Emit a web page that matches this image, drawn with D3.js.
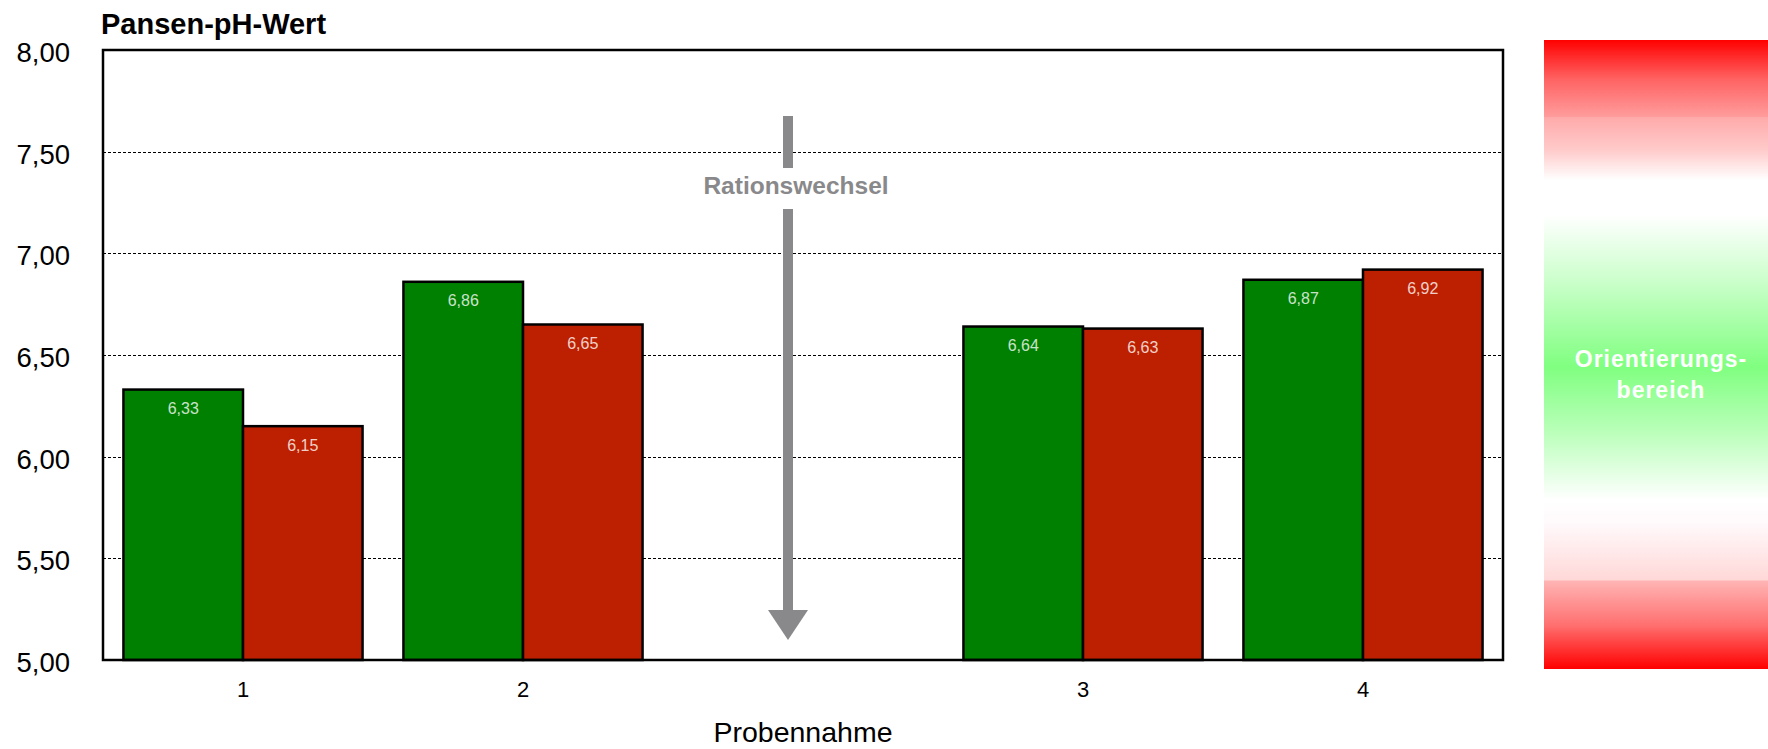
<!DOCTYPE html>
<html>
<head>
<meta charset="utf-8">
<script src="https://cdn.jsdelivr.net/npm/d3@7"></script>
<style>
  html, body { margin: 0; padding: 0; background: #fff; }
  svg { display: block; }
  text { font-family: "Liberation Sans", Arial, Helvetica, sans-serif; }
</style>
</head>
<body>
<script>
// Pansen-pH-Werte je Probennahme, zwei Gruppen, Rationswechsel zwischen 2 und 3
const probennahme = ["1", "2", "3", "4"];
const gruppeGruen = [6.33, 6.86, 6.64, 6.87];
const gruppeRot   = [6.15, 6.65, 6.63, 6.92];
const slots = ["1", "2", "wechsel", "3", "4"];   // freie Position für den Rationswechsel
const yTicks = [5.0, 5.5, 6.0, 6.5, 7.0, 7.5, 8.0];
const yDomain = [5, 8];

const W = 1768, H = 749;
const plot = { left: 103, right: 1503, top: 50, bottom: 660 };

const fmt = d3.formatLocale({ decimal: ",", thousands: ".", grouping: [3], currency: ["", " €"] }).format(".2f");

const svg = d3.select("body").append("svg").attr("width", W).attr("height", H);

const x = d3.scaleBand().domain(slots).range([plot.left, plot.right])
  .paddingInner(0.146).paddingOuter(0.073);
const sub = d3.scaleBand().domain(["gruen", "rot"]).range([0, x.bandwidth()]);
const y = d3.scaleLinear().domain(yDomain).range([plot.bottom, plot.top]);

// Orientierungsbereich (Farbverlauf rechts)
const defs = svg.append("defs");
const band = { x: 1544, y0: 40, y1: 669 };
const grad = defs.append("linearGradient").attr("id", "orient")
  .attr("gradientUnits", "userSpaceOnUse")
  .attr("x1", 0).attr("x2", 0).attr("y1", band.y0).attr("y2", band.y1);
const stops = [
  [40, "#ff0000"], [80, "#ff6464"], [117, "#ff9c9c"], [117.5, "#ffaaaa"],
  [150, "#ffcaca"], [180, "#ffffff"], [215, "#ffffff"], [280, "#ccffcc"],
  [367, "#80ff80"], [430, "#b8ffb8"], [500, "#ffffff"], [522, "#fffafc"],
  [580, "#ffd8d8"], [581, "#ffb4b4"], [625, "#ff7070"], [669, "#ff0000"]
];
grad.selectAll("stop").data(stops).join("stop")
  .attr("offset", d => (d[0] - band.y0) / (band.y1 - band.y0))
  .attr("stop-color", d => d[1]);
svg.append("rect").attr("x", band.x).attr("y", band.y0)
  .attr("width", W - band.x).attr("height", band.y1 - band.y0)
  .attr("fill", "url(#orient)");
svg.append("text").attr("x", 1661).attr("text-anchor", "middle")
  .attr("font-weight", "bold").attr("font-size", 23).attr("letter-spacing", 1)
  .attr("fill", "#fff")
  .selectAll("tspan").data(["Orientierungs-", "bereich"]).join("tspan")
  .attr("x", 1661).attr("y", (d, i) => 367 + i * 31).text(d => d);

// Gitterlinien
svg.append("g").selectAll("line").data(yTicks.filter(t => t > yDomain[0] && t < yDomain[1]))
  .join("line")
  .attr("x1", plot.left).attr("x2", plot.right)
  .attr("y1", d => Math.round(y(d)) + 0.5).attr("y2", d => Math.round(y(d)) + 0.5)
  .attr("stroke", "#000").attr("stroke-width", 1).attr("stroke-dasharray", "3,2");

// Y-Achse (nur Beschriftung)
const yAxis = d3.axisLeft(y).tickValues(yTicks).tickFormat(fmt).tickSize(0).tickPadding(33);
const gy = svg.append("g").attr("transform", `translate(${plot.left},0)`).call(yAxis);
gy.select(".domain").remove();
gy.selectAll("text").attr("font-size", 27.5).attr("fill", "#000")
  .attr("font-family", "'Liberation Sans', Arial, sans-serif")
  .attr("dy", "0.45em").attr("y", -1);

// X-Achse (nur Beschriftung)
const xAxis = d3.axisBottom(x).tickValues(slots.filter(s => probennahme.includes(s)))
  .tickSize(0).tickPadding(0);
const gx = svg.append("g").attr("transform", `translate(0,${plot.bottom})`).call(xAxis);
gx.select(".domain").remove();
gx.selectAll("text").attr("font-size", 22).attr("fill", "#000")
  .attr("font-family", "'Liberation Sans', Arial, sans-serif")
  .attr("dy", 0).attr("y", 37);

// Balken
const rows = probennahme.map((p, i) => ({ p, gruen: gruppeGruen[i], rot: gruppeRot[i] }));
const farben = { gruen: "#008000", rot: "#bd2000" };
const groups = svg.append("g").selectAll("g").data(rows).join("g")
  .attr("transform", d => `translate(${x(d.p)},0)`);
const bars = groups.selectAll("g").data(d => ["gruen", "rot"].map(k => ({ k, v: d[k] }))).join("g");
bars.append("rect")
  .attr("x", d => sub(d.k)).attr("width", sub.bandwidth())
  .attr("y", d => y(d.v)).attr("height", d => y(yDomain[0]) - y(d.v))
  .attr("fill", d => farben[d.k]).attr("stroke", "#000").attr("stroke-width", 2.5);
bars.append("text")
  .attr("x", d => sub(d.k) + sub.bandwidth() / 2).attr("y", d => y(d.v) + 24.5)
  .attr("text-anchor", "middle").attr("font-size", 16)
  .attr("fill", "#fff").attr("fill-opacity", 0.8)
  .text(d => fmt(d.v));

// Rahmen des Diagrammbereichs
svg.append("rect").attr("x", plot.left).attr("y", plot.top)
  .attr("width", plot.right - plot.left).attr("height", plot.bottom - plot.top)
  .attr("fill", "none").attr("stroke", "#000").attr("stroke-width", 2.5);

// Rationswechsel-Pfeil
const ax = x("wechsel") + x.bandwidth() / 2 - 15;
const grau = "#89898b";
svg.append("rect").attr("x", ax - 5).attr("y", 116).attr("width", 10).attr("height", 168 - 116).attr("fill", grau);
svg.append("rect").attr("x", ax - 5).attr("y", 209).attr("width", 10).attr("height", 611 - 209).attr("fill", grau);
svg.append("path").attr("d", `M${ax - 20},610 L${ax + 20},610 L${ax},640 Z`).attr("fill", grau);
svg.append("text").attr("x", ax + 8).attr("y", 194).attr("text-anchor", "middle")
  .attr("font-weight", "bold").attr("font-size", 24.5).attr("fill", grau).text("Rationswechsel");

// Titel und Achsentitel
svg.append("text").attr("x", 101).attr("y", 34).attr("font-weight", "bold")
  .attr("font-size", 29).attr("fill", "#000").text("Pansen-pH-Wert");
svg.append("text").attr("x", (plot.left + plot.right) / 2).attr("y", 742)
  .attr("text-anchor", "middle").attr("font-size", 28.5).attr("fill", "#000").text("Probennahme");
</script>
</body>
</html>
